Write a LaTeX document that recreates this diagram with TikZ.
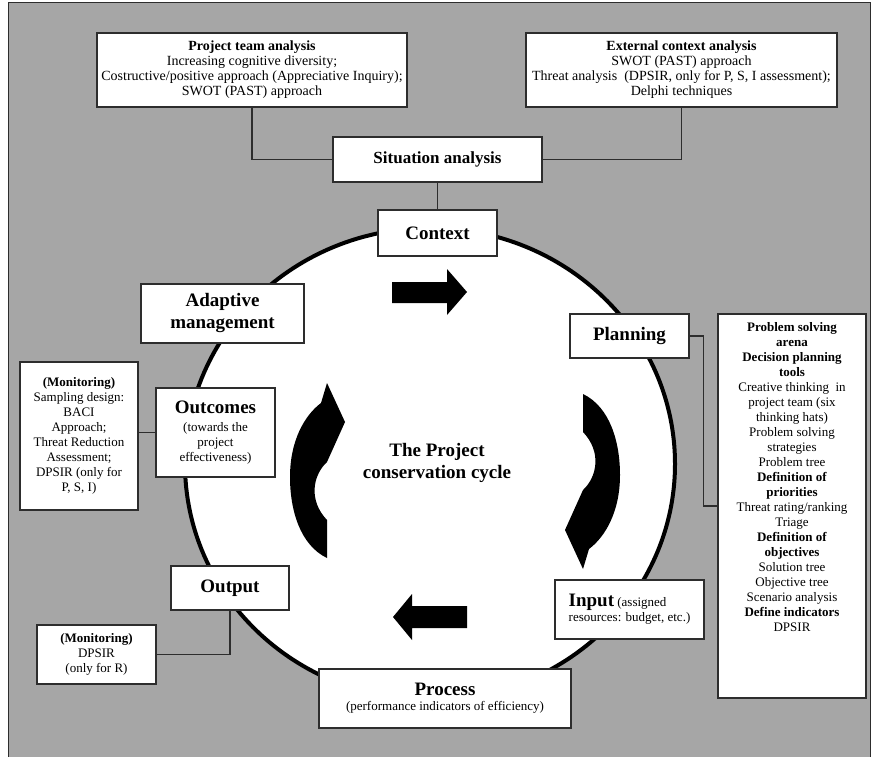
\documentclass[tikz,border=0pt]{standalone}
\usepackage{fontspec}
\setmainfont{Liberation Serif}
\usetikzlibrary{positioning}

\definecolor{panelgrey}{RGB}{166,166,166}
\definecolor{edgegrey}{RGB}{45,45,45}

\newcommand{\headfont}{\fontsize{19}{22}\selectfont\bfseries}
\newcommand{\topfont}{\fontsize{14}{15}\selectfont}
\newcommand{\sidefont}{\fontsize{13}{15}\selectfont}

\begin{document}
\begin{tikzpicture}[x=1pt, y=-1pt,
  box/.style={draw=edgegrey, fill=white, line width=1.2pt, inner sep=0pt, align=center},
  link/.style={draw=edgegrey, line width=1.1pt}]
\useasboundingbox (0,0) rectangle (878,757);
\fill[white] (0,0) rectangle (878,757);
\filldraw[fill=panelgrey, draw=edgegrey, line width=1pt] (8,3) rectangle (870,757);

\def\cx{430}
\def\cy{464}
\filldraw[fill=white, draw=black, line width=4pt] (\cx,\cy) ellipse [x radius=245pt, y radius=236pt];

\node[box, minimum width=310pt, minimum height=74pt, font=\topfont] (team) at (252,70)
  {\textbf{Project team analysis}\\Increasing cognitive diversity;\\Costructive/positive approach (Appreciative Inquiry);\\SWOT (PAST) approach};
\node[box, minimum width=311pt, minimum height=74pt, font=\topfont] (external) at (681.5,70)
  {\textbf{External context analysis}\\SWOT (PAST) approach\\Threat analysis\ \ (DPSIR, only for P, S, I assessment);\\Delphi techniques};
\node[box, minimum width=209pt, minimum height=45pt, font=\fontsize{17}{20}\selectfont\bfseries] (situation) at (437.5,159.5) {Situation analysis};
\node[box, minimum width=119pt, minimum height=46pt, font=\headfont] (context) at (437.5,233) {Context};
\node[box, minimum width=163pt, minimum height=59pt, font=\headfont] (adaptive) at (222.5,313.5) {Adaptive\\management};
\node[box, minimum width=119pt, minimum height=44pt, font=\headfont] (planning) at (629.5,336) {Planning};
\node[box, minimum width=148pt, minimum height=384pt] (tools) at (792,506) {};
\node[anchor=north, align=center, inner sep=0pt, font=\sidefont] (toollist) at ([yshift=-9pt]tools.north)
  {\textbf{Problem solving}\\\textbf{arena}\\\textbf{Decision planning}\\\textbf{tools}\\Creative thinking\ \ in\\project team (six\\thinking hats)\\Problem solving\\strategies\\Problem tree\\\textbf{Definition of}\\\textbf{priorities}\\Threat rating/ranking\\Triage\\\textbf{Definition of}\\\textbf{objectives}\\Solution tree\\Objective tree\\Scenario analysis\\\textbf{Define indicators}\\DPSIR};
\node[box, minimum width=118pt, minimum height=148pt, font=\sidefont] (monitorout) at (79,436)
  {\textbf{(Monitoring)}\\Sampling design:\\BACI\\Approach;\\Threat Reduction\\Assessment;\\DPSIR (only for\\P, S, I)};
\node[box, minimum width=119pt, minimum height=89pt, font=\sidefont] (outcomes) at (215.5,432.5)
  {\headfont Outcomes\\[3pt](towards the\\project\\effectiveness)};
\node[box, minimum width=118pt, minimum height=44pt, font=\headfont] (output) at (230,588) {Output};
\node[box, minimum width=119pt, minimum height=59pt, font=\sidefont] (monitorres) at (96.5,654.5)
  {\textbf{(Monitoring)}\\DPSIR\\(only for R)};
\node[box, minimum width=252pt, minimum height=59pt, font=\sidefont] (process) at (445,698.5)
  {\headfont Process\\(performance indicators of efficiency)};
\node[box, minimum width=149pt, minimum height=59pt, font=\sidefont, align=left] (input) at (629.5,609.5)
  {{\headfont Input} (assigned\\resources: budget, etc.)};
\node[align=center, inner sep=0pt, font=\headfont] (title) at (437,463) {The Project\\conservation cycle};

\draw[link] (team.south) |- (situation.west);
\draw[link] (external.south) |- (situation.east);
\draw[link] (situation) -- (context);
\draw[link] (planning.east) -- ++(14,0) |- (tools.west);
\draw[link] (outcomes.west) -- (outcomes.west -| monitorout.east);
\draw[link] (output.south) |- (monitorres.east);

\fill (392,282) -- (447,282) -- (447,269) -- (467,292) -- (447,315) -- (447,303) -- (392,303) -- cycle;
\fill (467,606) -- (412,606) -- (412,594) -- (393,617) -- (412,640) -- (412,628) -- (467,628) -- cycle;

\def\turnarrow{(327,558) .. controls (300,545) and (290,510) .. (290,477) .. controls (290,440) and (305,415) .. (321,403) -- (327,383) -- (345,422) -- (327,462) .. controls (313,475) and (308,500) .. (327,520) -- cycle}
\fill \turnarrow;
\begin{scope}[rotate around={180:(455,476)}]
\fill \turnarrow;
\end{scope}
\end{tikzpicture}
\end{document}
